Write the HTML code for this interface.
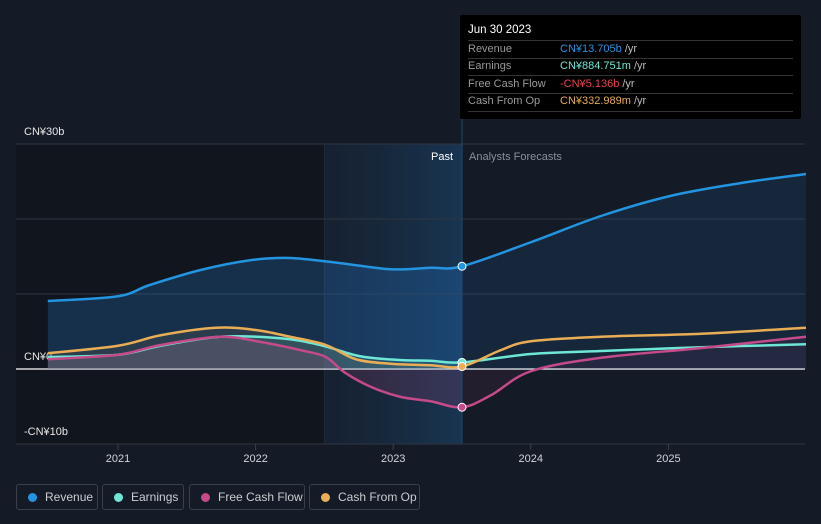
<!DOCTYPE html>
<html><head><meta charset="utf-8"><style>
body{margin:0;background:#151b26;font-family:"Liberation Sans","Noto Sans CJK SC",sans-serif;}
#wrap{position:relative;width:821px;height:524px;overflow:hidden;background:#151b26;}
.leg{position:absolute;top:484px;height:26px;border:1px solid #3a404b;border-radius:3px;box-sizing:border-box;color:#c9ccd1;font-size:12px;line-height:24px;padding-left:28px;}
.leg i{position:absolute;left:11px;top:8px;width:9px;height:9px;border-radius:50%;}
</style></head><body>
<div id="wrap">
<svg id="chart" width="821" height="524" style="position:absolute;left:0;top:0"></svg>
<div style="position:absolute;left:460px;top:15px;width:341px;height:104px;background:#000;border-radius:2px;font-size:11px;color:#fff;">
<div style="position:absolute;left:8px;top:9px;font-size:11.5px">Jun 30 2023</div>
<div style="position:absolute;left:8px;right:8px;top:25px;border-top:1px solid #333"></div>
<div style="position:absolute;left:8px;top:28px;color:#999">Revenue</div><div style="position:absolute;left:100px;top:28px;color:#2394df">CN¥13.705b <span style="color:#bbb">/yr</span></div>
<div style="position:absolute;left:8px;right:8px;top:43px;border-top:1px solid #333"></div>
<div style="position:absolute;left:8px;top:45px;color:#999">Earnings</div><div style="position:absolute;left:100px;top:45px;color:#6ee7d6">CN¥884.751m <span style="color:#bbb">/yr</span></div>
<div style="position:absolute;left:8px;right:8px;top:60px;border-top:1px solid #333"></div>
<div style="position:absolute;left:8px;top:63px;color:#999">Free Cash Flow</div><div style="position:absolute;left:100px;top:63px;color:#e8414a">-CN¥5.136b <span style="color:#bbb">/yr</span></div>
<div style="position:absolute;left:8px;right:8px;top:78px;border-top:1px solid #333"></div>
<div style="position:absolute;left:8px;top:80px;color:#999">Cash From Op</div><div style="position:absolute;left:100px;top:80px;color:#e9ad55">CN¥332.989m <span style="color:#bbb">/yr</span></div>
<div style="position:absolute;left:8px;right:8px;top:96px;border-top:1px solid #333"></div>
</div>
<div class="leg" style="left:16px;width:82px"><i style="background:#2394df"></i>Revenue</div>
<div class="leg" style="left:102px;width:82px"><i style="background:#6ee7d6"></i>Earnings</div>
<div class="leg" style="left:189px;width:116px"><i style="background:#c44a8a"></i>Free Cash Flow</div>
<div class="leg" style="left:309px;width:111px"><i style="background:#e9ad55"></i>Cash From Op</div>
</div>
<script>
const revT=[2020.49,2021,2021.23,2021.6,2021.96,2022.25,2022.62,2022.98,2023.27,2023.5,2024,2024.51,2025.02,2025.53,2026];
const revV=[9.07,9.7,11.2,13.2,14.5,14.8,14.1,13.3,13.5,13.7,16.9,20.4,23.1,24.8,26];
const earT=[2020.49,2021,2021.31,2021.74,2022.18,2022.47,2022.76,2023.05,2023.27,2023.5,2024,2024.51,2025.24,2026];
const earV=[1.6,1.9,3.1,4.3,4.1,3.2,1.7,1.2,1.1,0.88,2.0,2.4,2.9,3.3];
const fcfT=[2020.49,2021,2021.31,2021.74,2022.04,2022.33,2022.51,2022.65,2022.84,2023.05,2023.27,2023.5,2023.71,2024,2024.51,2025.24,2026];
const fcfV=[1.3,1.9,3.2,4.3,3.6,2.5,1.6,-0.5,-2.4,-3.7,-4.3,-5.1,-3.5,-0.3,1.5,2.8,4.3];
const cfoT=[2020.49,2021,2021.31,2021.71,2022,2022.25,2022.51,2022.73,2022.98,2023.27,2023.5,2023.78,2024,2024.51,2025.24,2026];
const cfoV=[2.1,3.1,4.5,5.5,5.2,4.3,3.2,1.3,0.7,0.5,0.33,2.5,3.7,4.3,4.7,5.5];
const yTicks=[30,20,10,0,-10];
const yLabels={30:"CN¥30b",0:"CN¥0",'-10':"-CN¥10b"};
const xTicks=[2021,2022,2023,2024,2025];
const NOW=2023.5;
const X=t=>118+(t-2021)*137.6;
const Y=v=>369-v*7.5;
const svg=document.getElementById('chart');const NS='http://www.w3.org/2000/svg';
function mk(tag,a,name){const e=document.createElementNS(NS,tag);for(const k in a)e.setAttribute(k,a[k]);svg.appendChild(e);return e;}
svg.innerHTML='<defs><linearGradient id="pg" x1="0" x2="1" y1="0" y2="0"><stop offset="0" stop-color="#1a3350" stop-opacity="0.25"/><stop offset="1" stop-color="#1a4a75" stop-opacity="0.55"/></linearGradient><clipPath id="cpast"><rect x="0" y="0" width="'+X(NOW)+'" height="524"/></clipPath><clipPath id="cfut"><rect x="'+X(NOW)+'" y="0" width="400" height="524"/></clipPath></defs>';
mk('rect',{x:16,y:144,width:X(2022.5)-16,height:300,fill:'#11151d'},'past-dark-region');
mk('rect',{x:X(2022.5),y:144,width:X(NOW)-X(2022.5),height:300,fill:'url(#pg)'},'past-highlight-region');
mk('line',{x1:X(2022.5),x2:X(2022.5),y1:144,y2:444,stroke:'#222b38'},'past-divider');
yTicks.forEach(v=>{mk('line',{x1:16,x2:805,y1:Y(v),y2:Y(v),stroke:v==0?'#ffffff':'#2f3541','stroke-width':v==0?1.2:1},'gridline');
 if(yLabels[v]){const t=mk('text',{x:24,y:Y(v)-9,fill:'#e6e6e6','font-size':11},'y-tick-label');t.textContent=yLabels[v];}});
xTicks.forEach(y=>{mk('line',{x1:X(y),x2:X(y),y1:444,y2:450,stroke:'#3a404b'},'x-tick');const t=mk('text',{x:X(y),y:462,fill:'#d0d3d8','font-size':11,'text-anchor':'middle'},'x-tick-label');t.textContent=String(y);});
function path(T,V){let p=T.map((t,i)=>[X(t),Y(V[i])]);let d='M'+p[0][0]+','+p[0][1];for(let i=0;i<p.length-1;i++){const p0=p[Math.max(i-1,0)],p1=p[i],p2=p[i+1],p3=p[Math.min(i+2,p.length-1)];d+=` C${p1[0]+(p2[0]-p0[0])/6},${p1[1]+(p2[1]-p0[1])/6} ${p2[0]-(p3[0]-p1[0])/6},${p2[1]-(p3[1]-p1[1])/6} ${p2[0]},${p2[1]}`;}return d;}
function area(T,V,fill,name,clip){const e=mk('path',{d:path(T,V)+` L${X(T[T.length-1])},${Y(0)} L${X(T[0])},${Y(0)} Z`,fill:fill},name);if(clip)e.setAttribute('clip-path',clip);}
area(revT,revV,'rgba(35,120,200,0.28)','revenue-area-past','url(#cpast)');
area(revT,revV,'rgba(35,120,200,0.13)','revenue-area-forecast','url(#cfut)');
area(cfoT,cfoV,'rgba(233,173,85,0.10)','cfo-area','url(#cpast)');
area(earT,earV,'rgba(110,231,214,0.12)','earnings-area','url(#cpast)');
area(fcfT,fcfV,'rgba(196,74,138,0.16)','fcf-area','url(#cpast)');
area(fcfT,fcfV,'rgba(196,74,138,0.08)','fcf-area-forecast','url(#cfut)');
mk('line',{x1:X(NOW),x2:X(NOW),y1:15,y2:444,stroke:'#1f4a6e'},'now-line');
const series=[[revT,revV,'#2394df','revenue-line'],[earT,earV,'#6ee7d6','earnings-line'],[fcfT,fcfV,'#c44a8a','fcf-line'],[cfoT,cfoV,'#e9ad55','cfo-line']];
series.forEach(s=>mk('path',{d:path(s[0],s[1]),fill:'none',stroke:s[2],'stroke-width':2.5},s[3]));
series.forEach(s=>{const i=s[0].indexOf(NOW);mk('circle',{cx:X(NOW),cy:Y(s[1][i]),r:4,fill:s[2],stroke:'#fff','stroke-width':1},s[3].replace('line','marker'));});
const p=mk('text',{x:X(NOW)-9,y:160,fill:'#fff','font-size':11,'text-anchor':'end'},'past-label');p.textContent='Past';
const f=mk('text',{x:X(NOW)+7,y:160,fill:'#8a9099','font-size':11},'forecast-label');f.textContent='Analysts Forecasts';
</script>
</body></html>
